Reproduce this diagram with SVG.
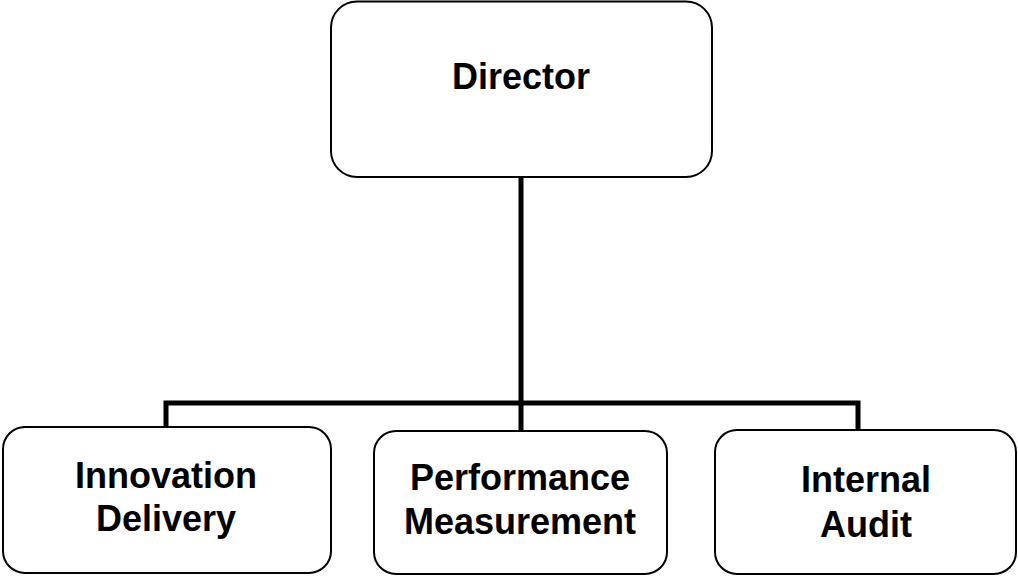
<svg xmlns="http://www.w3.org/2000/svg" width="1018" height="576" viewBox="0 0 1018 576">
<style>
.box{fill:#fff;stroke:#000;stroke-width:2}
.lbl{font-family:"Liberation Sans",Arial,sans-serif;font-weight:bold;font-size:36px;text-anchor:middle;fill:#000}
.conn{fill:none;stroke:#000;stroke-width:5}
</style>
<rect width="1018" height="576" fill="#fff"/>
<g id="connectors">
<path class="conn" d="M521 177 V403"/>
<path class="conn" d="M166 427 V403 H858 V430"/>
<path class="conn" d="M521 403 V431"/>
</g>
<g id="director">
<rect class="box" x="331" y="1.5" width="381" height="175.5" rx="26"/>
<text class="lbl" x="521" y="89">Director</text>
</g>
<g id="innovation">
<rect class="box" x="3" y="427" width="328" height="146" rx="22"/>
<text class="lbl" x="166" y="488">Innovation</text>
<text class="lbl" x="166" y="531">Delivery</text>
</g>
<g id="performance">
<rect class="box" x="374" y="431" width="293" height="143" rx="22"/>
<text class="lbl" x="520" y="490">Performance</text>
<text class="lbl" x="520" y="534">Measurement</text>
</g>
<g id="audit">
<rect class="box" x="715" y="430" width="301" height="144" rx="22"/>
<text class="lbl" x="866" y="492">Internal</text>
<text class="lbl" x="866" y="537">Audit</text>
</g>
</svg>
